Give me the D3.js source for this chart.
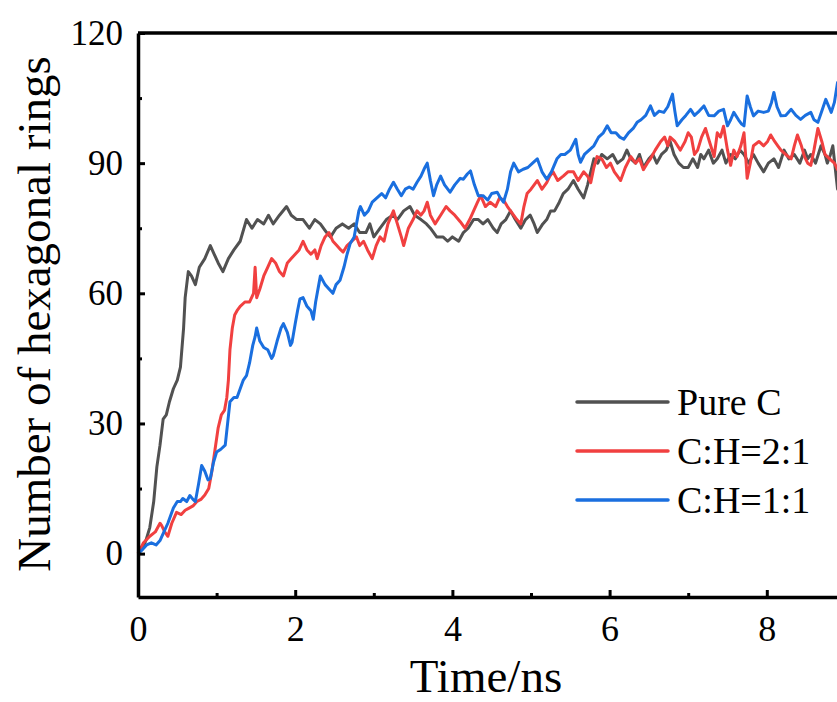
<!DOCTYPE html>
<html>
<head>
<meta charset="utf-8">
<script src="https://cdn.jsdelivr.net/npm/d3@7"></script>
<style>
  body { margin: 0; background: #fff; }
  svg { display: block; font-family: "Liberation Serif", "Times New Roman", serif; }
</style>
</head>
<body>
<div id="chart"></div>
<script>
/* series names and colours */
var seriesNames = ["Pure C", "C:H=2:1", "C:H=1:1"];
var seriesColors = ["#515151", "#F14040", "#1A6FDF"];

/* [time in ns, number of hexagonal rings] */
var pureC = [[0,0],[0.05,1],[0.1,3],[0.15,6],[0.2,12],[0.24,20],[0.28,25],[0.32,31],[0.36,32],[0.4,35],[0.45,38],[0.5,40],[0.54,43],[0.58,52],[0.6,59],[0.64,65],[0.68,64],[0.73,62],[0.78,66],[0.85,68],[0.92,71],[0.97,69],[1.02,67],[1.08,65],[1.15,68],[1.22,70],[1.3,72],[1.38,77],[1.45,75],[1.52,77],[1.6,76],[1.66,78],[1.72,76],[1.8,78],[1.89,80],[1.95,78],[2.02,77],[2.1,77],[2.18,75],[2.25,77],[2.32,76],[2.4,74],[2.45,73],[2.52,75],[2.6,76],[2.68,75],[2.75,76],[2.82,74],[2.9,74],[2.95,76],[3.0,73],[3.08,75],[3.16,77],[3.24,78],[3.3,77],[3.38,79],[3.46,80],[3.52,78],[3.6,77],[3.67,76],[3.72,75],[3.8,73],[3.88,73],[3.94,72],[4.0,73],[4.08,72],[4.14,74],[4.2,75],[4.27,77],[4.33,77],[4.39,76],[4.45,77],[4.52,75],[4.57,74],[4.62,76],[4.68,77],[4.74,79],[4.8,77],[4.87,75],[4.93,77],[4.99,78],[5.04,76],[5.08,74],[5.15,76],[5.2,77],[5.25,79],[5.3,79],[5.36,81],[5.41,83],[5.47,84],[5.54,86],[5.6,84],[5.67,82],[5.72,85],[5.8,91],[5.85,90],[5.9,92],[5.97,91],[6.04,92],[6.1,90],[6.17,91],[6.22,93],[6.27,91],[6.33,90],[6.38,92],[6.43,89],[6.5,91],[6.55,92],[6.6,90],[6.66,92],[6.72,93],[6.77,95],[6.82,92],[6.88,90],[6.94,89],[7.0,89],[7.06,91],[7.12,89],[7.16,92],[7.2,91],[7.26,93],[7.32,90],[7.37,91],[7.43,93],[7.48,90],[7.54,92],[7.6,91],[7.66,93],[7.71,92],[7.77,90],[7.83,92],[7.89,90],[7.96,88],[8.02,90],[8.09,91],[8.15,89],[8.22,93],[8.28,91],[8.35,92],[8.42,90],[8.48,93],[8.52,91],[8.56,92],[8.62,90],[8.69,94],[8.74,92],[8.77,90],[8.81,92],[8.84,94],[8.87,89],[8.9,84],[8.95,86]];

var ch21 = [[0,0],[0.07,2.5],[0.15,4],[0.22,5],[0.28,7],[0.3,6.5],[0.34,5],[0.38,4],[0.43,7],[0.49,9.5],[0.55,9],[0.6,10],[0.65,10.5],[0.7,11],[0.75,12],[0.8,12.5],[0.85,13.5],[0.9,15],[0.94,19],[0.98,24],[1.02,29],[1.06,32],[1.1,33],[1.13,36],[1.15,40],[1.17,47],[1.2,52],[1.23,55],[1.26,56],[1.3,57],[1.36,58],[1.42,58],[1.47,60],[1.49,66],[1.51,59],[1.55,61],[1.6,64],[1.65,66],[1.7,68],[1.75,67],[1.8,65],[1.85,64],[1.9,67],[1.95,68],[2.0,69],[2.05,70],[2.1,72],[2.15,70],[2.2,69],[2.25,70],[2.28,68],[2.33,71],[2.38,73],[2.43,74],[2.48,72],[2.53,71],[2.58,70],[2.61,69.5],[2.66,71],[2.72,72],[2.78,73],[2.82,71],[2.87,72],[2.92,70],[2.98,68],[3.03,71],[3.08,73],[3.13,72],[3.18,76],[3.25,79],[3.3,76],[3.35,73],[3.38,71],[3.44,75],[3.5,77],[3.55,79],[3.6,78],[3.64,79],[3.68,81],[3.72,78],[3.78,76],[3.85,78],[3.92,80],[3.97,79],[4.03,78],[4.1,76.5],[4.16,75],[4.22,77],[4.27,79],[4.32,81],[4.36,82.5],[4.42,80],[4.48,81],[4.55,80],[4.6,82],[4.65,81.5],[4.7,80],[4.76,78.5],[4.82,77],[4.87,76],[4.91,80],[4.95,83],[5.0,84],[5.04,85],[5.08,86],[5.14,84],[5.2,85.5],[5.24,87],[5.28,88],[5.34,86],[5.41,87],[5.47,88],[5.54,88],[5.6,86],[5.67,88],[5.72,87],[5.76,85.5],[5.8,89],[5.84,91.5],[5.9,91],[5.96,89],[6.01,90],[6.06,88],[6.1,87],[6.14,86],[6.2,89],[6.27,91.5],[6.33,90],[6.38,91],[6.43,88.5],[6.48,90],[6.52,91],[6.58,93],[6.65,95],[6.7,96],[6.74,94],[6.77,96],[6.83,95],[6.9,93],[6.96,95],[7.0,97],[7.04,96],[7.08,92],[7.12,93],[7.17,96],[7.22,98],[7.27,95],[7.33,91.5],[7.37,97],[7.41,96],[7.45,98.5],[7.5,93],[7.54,89.5],[7.58,93],[7.62,91.5],[7.67,94],[7.71,97],[7.73,92],[7.75,86.5],[7.79,90],[7.83,94],[7.9,95],[7.96,94],[8.01,95],[8.05,96.5],[8.1,95],[8.14,94],[8.18,93],[8.24,92],[8.31,91],[8.35,94],[8.39,96.5],[8.44,94],[8.48,91.5],[8.52,90],[8.56,89.5],[8.6,93],[8.65,98],[8.7,95],[8.74,92],[8.8,91],[8.86,90],[8.9,88.5],[8.95,88]];

var ch11 = [[0,0],[0.06,1],[0.11,2],[0.17,2.5],[0.23,2],[0.28,3],[0.33,5],[0.38,7],[0.42,9],[0.45,10.5],[0.5,12],[0.54,12],[0.57,12.7],[0.62,12],[0.66,13.4],[0.7,12.5],[0.73,12],[0.77,16],[0.81,20.3],[0.85,19],[0.89,17],[0.92,17.3],[0.96,21],[1.0,23.4],[1.05,24],[1.11,25],[1.14,30],[1.17,35],[1.22,36],[1.26,36],[1.3,38],[1.34,40],[1.38,41],[1.42,44],[1.46,48],[1.49,50],[1.51,52],[1.55,49],[1.6,47.5],[1.65,47],[1.7,45],[1.72,45.6],[1.77,49],[1.82,52],[1.85,53],[1.9,51],[1.94,48],[1.96,48.7],[2.0,53],[2.03,56],[2.06,58.7],[2.1,59],[2.15,57],[2.2,56],[2.23,54],[2.26,58],[2.3,62],[2.32,64],[2.38,62],[2.43,61],[2.48,60],[2.52,62],[2.57,63],[2.62,66],[2.66,69],[2.7,71.5],[2.75,73],[2.78,76],[2.81,79],[2.83,80],[2.88,78],[2.93,79],[2.98,81],[3.04,82],[3.1,83],[3.15,82],[3.2,84],[3.25,85.6],[3.3,84],[3.35,82.5],[3.4,84],[3.45,84.5],[3.5,84],[3.55,85.6],[3.6,87],[3.65,89],[3.68,90],[3.72,86],[3.76,82.5],[3.8,85],[3.85,87],[3.9,85],[3.97,83.3],[4.03,85],[4.1,86.5],[4.14,86.3],[4.19,87.5],[4.23,88.2],[4.28,85],[4.33,82.5],[4.39,82.5],[4.45,81.5],[4.5,83],[4.57,83.3],[4.61,82],[4.65,81],[4.7,84],[4.74,88],[4.78,90],[4.84,88],[4.9,88.6],[4.96,89],[5.02,90],[5.08,91],[5.14,88],[5.2,86.3],[5.26,88],[5.33,91],[5.38,92],[5.43,92],[5.5,93],[5.57,95.5],[5.6,92],[5.63,90.2],[5.68,92],[5.74,93],[5.8,94],[5.86,96],[5.92,97],[5.97,98.6],[6.02,97],[6.08,97],[6.13,96],[6.18,95.5],[6.24,97],[6.3,98],[6.35,99.4],[6.4,100],[6.46,101],[6.52,103.2],[6.57,101],[6.63,102],[6.69,101.7],[6.74,103],[6.8,105.9],[6.83,102],[6.86,98.6],[6.92,100],[6.97,101],[7.03,102.4],[7.08,101],[7.14,102],[7.2,103.2],[7.26,101],[7.33,100.9],[7.39,102],[7.45,102.4],[7.5,98.6],[7.54,100],[7.58,101.7],[7.64,100],[7.68,99],[7.71,98.6],[7.75,105.5],[7.79,103],[7.83,100.9],[7.89,102],[7.96,101.7],[8.02,102],[8.06,104],[8.09,106.3],[8.13,103],[8.18,100.9],[8.24,101],[8.31,102.4],[8.37,101],[8.43,100.1],[8.49,101],[8.56,101.7],[8.6,100],[8.65,99.4],[8.7,102],[8.75,104.7],[8.79,103],[8.82,101.7],[8.86,104],[8.9,108.6],[8.95,107]];

/* axis ticks */
var xMajorTicks = [0, 2, 4, 6, 8];
var xMinorTicks = [1, 3, 5, 7];
var yMajorTicks = [0, 30, 60, 90, 120];
var yMinorTicks = [15, 45, 75, 105];

var canvasWidth = 837;
var canvasHeight = 702;

/*Plot frame; the right part runs past the window like in the original*/
var plotLeft = 138, plotTop = 33, plotRight = 924, plotBottom = 597;

var svg = d3.select("#chart").append("svg")
    .attr("width", canvasWidth)
    .attr("height", canvasHeight);

var xScale = d3.scaleLinear().domain([0, 10]).range([plotLeft, plotRight]);
var yScale = d3.scaleLinear().domain([-10, 120]).range([plotBottom, plotTop]);

/*Lines*/
var line = d3.line()
    .x(function(d) { return xScale(d[0]); })
    .y(function(d) { return yScale(d[1]); });

[pureC, ch21, ch11].forEach(function(s, i) {
    svg.append("path")
        .datum(s)
        .attr("fill", "none")
        .attr("stroke", seriesColors[i])
        .attr("stroke-width", 3)
        .attr("stroke-linejoin", "round")
        .attr("d", line);
});

/*Top frame line*/
svg.append("line")
    .attr("x1", plotLeft).attr("x2", plotRight)
    .attr("y1", plotTop).attr("y2", plotTop)
    .attr("stroke", "#000").attr("stroke-width", 3.5);

/*X axis, ticks pointing inward*/
var xAxis = svg.append("g")
    .attr("transform", "translate(0," + plotBottom + ")")
    .call(d3.axisBottom(xScale).tickValues(xMajorTicks).tickSizeInner(-7).tickSizeOuter(0).tickPadding(18));
xAxis.select(".domain").attr("stroke-width", 3.5);
xAxis.selectAll(".tick line").attr("stroke-width", 3);
xAxis.selectAll(".tick text")
    .attr("font-size", 36)
    .attr("fill", "#000")
    .attr("font-family", "Liberation Serif, Times New Roman, serif");

svg.append("g")
    .attr("transform", "translate(0," + plotBottom + ")")
    .call(d3.axisBottom(xScale).tickValues(xMinorTicks).tickSizeInner(-4).tickSizeOuter(0).tickFormat(""))
    .call(function(g) { g.select(".domain").remove(); })
    .selectAll(".tick line").attr("stroke-width", 3);

/*Y axis*/
var yAxis = svg.append("g")
    .attr("transform", "translate(" + plotLeft + ",0)")
    .call(d3.axisLeft(yScale).tickValues(yMajorTicks).tickSizeInner(-7).tickSizeOuter(0).tickPadding(15));
yAxis.select(".domain").attr("stroke-width", 3.5);
yAxis.selectAll(".tick line").attr("stroke-width", 3);
yAxis.selectAll(".tick text")
    .attr("font-size", 35)
    .attr("fill", "#000")
    .attr("font-family", "Liberation Serif, Times New Roman, serif");

svg.append("g")
    .attr("transform", "translate(" + plotLeft + ",0)")
    .call(d3.axisLeft(yScale).tickValues(yMinorTicks).tickSizeInner(-4).tickSizeOuter(0).tickFormat(""))
    .call(function(g) { g.select(".domain").remove(); })
    .selectAll(".tick line").attr("stroke-width", 3);

/*Axis titles*/
svg.append("text")
    .attr("x", 486)
    .attr("y", 692)
    .attr("text-anchor", "middle")
    .attr("font-size", 47)
    .text("Time/ns");

svg.append("text")
    .attr("transform", "translate(50,314) rotate(-90)")
    .attr("text-anchor", "middle")
    .attr("font-size", 47)
    .text("Number of hexagonal rings");

/*Legend*/
var legend = svg.append("g").attr("transform", "translate(577,402)");
seriesNames.forEach(function(name, i) {
    var row = legend.append("g").attr("transform", "translate(0," + (i * 49) + ")");
    row.append("line")
        .attr("x1", 0).attr("x2", 91)
        .attr("stroke", seriesColors[i])
        .attr("stroke-width", 3.5)
        .attr("stroke-linecap", "round");
    row.append("text")
        .attr("x", 100)
        .attr("dy", "0.35em")
        .attr("font-size", 38)
        .text(name);
});
</script>
</body>
</html>
